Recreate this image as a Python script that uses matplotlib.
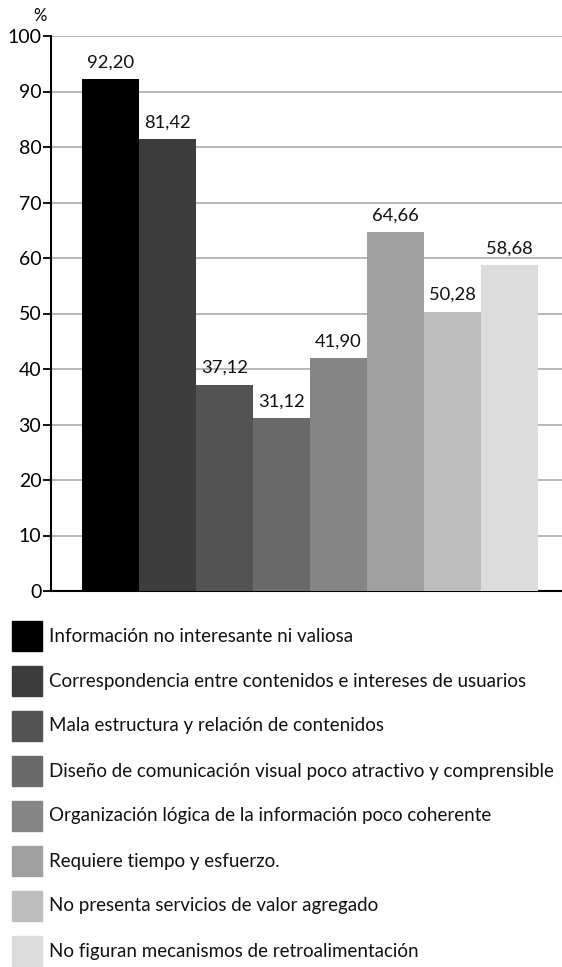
import matplotlib
matplotlib.use("Agg")
import matplotlib.pyplot as plt
from matplotlib.patches import Rectangle

categories = [
    "Información no interesante ni valiosa",
    "Correspondencia entre contenidos e intereses de usuarios",
    "Mala estructura y relación de contenidos",
    "Diseño de comunicación visual poco atractivo y comprensible",
    "Organización lógica de la información poco coherente",
    "Requiere tiempo y esfuerzo.",
    "No presenta servicios de valor agregado",
    "No figuran mecanismos de retroalimentación",
]
values = [92.20, 81.42, 37.12, 31.12, 41.90, 64.66, 50.28, 58.68]
value_labels = ["92,20", "81,42", "37,12", "31,12", "41,90", "64,66", "50,28", "58,68"]
colors = ["#000000", "#3c3c3c", "#535353", "#6a6a6a", "#858585", "#a0a0a0", "#bdbdbd", "#dcdcdc"]
yticks = [0, 10, 20, 30, 40, 50, 60, 70, 80, 90, 100]

plt.rcParams['font.family'] = ['Lato', 'DejaVu Sans']

W, H = 562, 967
fig = plt.figure(figsize=(W / 100, H / 100), dpi=100)

ax = fig.add_axes([51 / W, 1 - 591 / H, (562 - 51) / W, (591 - 36) / H])
ax.set_ylim(0, 100)
bw = 57
n = len(values)
xmax_px = 562 - 51
ax.set_xlim(0, xmax_px)
x0 = 31
xs = [x0 + i * bw for i in range(n)]
ax.bar(xs, values, width=bw, align='edge', color=colors, zorder=3, linewidth=0)
for x, v, lab in zip(xs, values, value_labels):
    ax.text(x + bw / 2, v + 1.6, lab, ha='center', va='bottom', fontsize=13.2, color='#111111')

ax.set_yticks(yticks)
ax.set_yticklabels([str(t) for t in yticks], fontsize=14)
ax.yaxis.grid(True, color='#aaaaaa', linewidth=1.2, zorder=0)
ax.set_xticks([])
for s in ['top', 'right']:
    ax.spines[s].set_visible(False)
ax.spines['left'].set_linewidth(1.5)
ax.spines['bottom'].set_linewidth(1.5)
ax.tick_params(axis='y', length=6, width=1.3, pad=1, colors='black')
fig.text(33 / W, 1 - 16 / H, "%", fontsize=12, ha='left', va='center')

row_y = [636, 681, 726, 771, 816, 861, 906, 951]
for yc, c, lab in zip(row_y, colors, categories):
    fig.patches.append(Rectangle((12 / W, 1 - (yc + 15) / H), 30 / W, 30 / H,
                                 transform=fig.transFigure, color=c, figure=fig))
    fig.text(49 / W, 1 - yc / H, lab, fontsize=13.5, ha='left', va='center', color='#111111')

fig.savefig("out.png", dpi=100)
